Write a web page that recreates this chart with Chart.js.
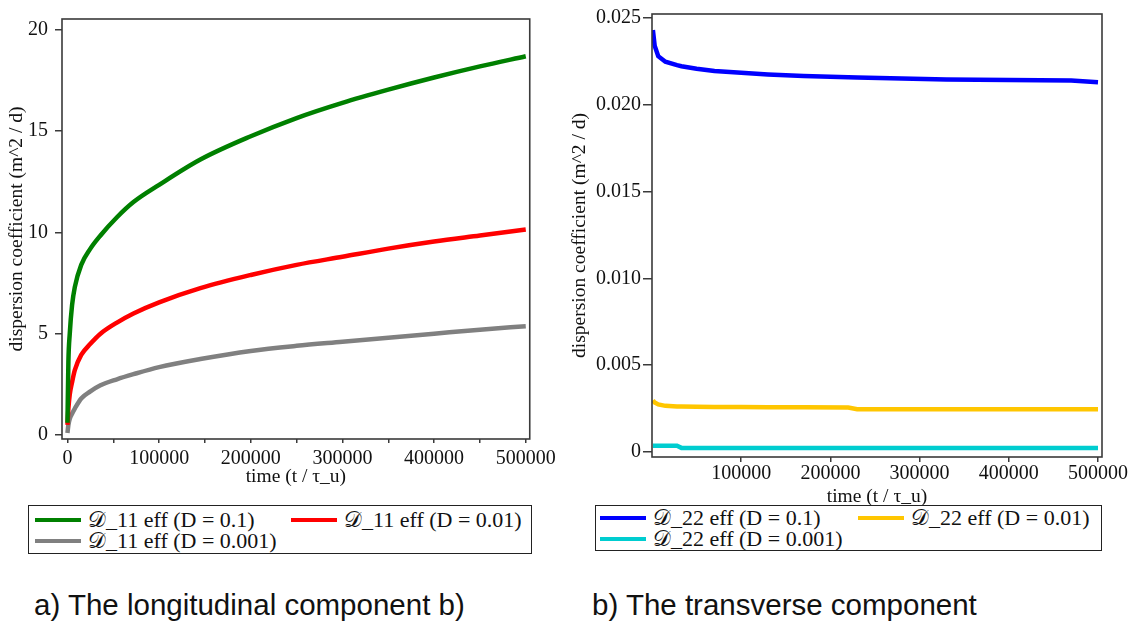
<!DOCTYPE html>
<html>
<head>
<meta charset="utf-8">
<script src="https://cdn.jsdelivr.net/npm/chart.js@4.4.1/dist/chart.umd.min.js"></script>
<style>
    body { margin: 0; background: #fff; width: 1131px; height: 624px; position: relative; overflow: hidden; }
    .panel { position: absolute; top: 0; }
    .legend { position: absolute; border: 1.5px solid #222; background: #fff; font-family: "Liberation Serif", serif; font-size: 22px; color: #111; }
    .legend .item { position: absolute; display: flex; align-items: center; white-space: nowrap; line-height: 22px; }
    .legend .swatch { width: 46px; height: 4px; margin-right: 7px; }
    .caption { position: absolute; top: 588px; font-family: "Liberation Sans", Arial, sans-serif; font-size: 29.5px; color: #111; white-space: nowrap; }
</style>
</head>
<body>
<div class="panel" style="left:0; width:560px; height:495px;"><canvas id="longChart"></canvas></div>
<div class="panel" style="left:560px; width:571px; height:510px;"><canvas id="transChart"></canvas></div>
<div class="legend" id="longLegend" style="left:28px; top:505px; width:502px; height:47px;"></div>
<div class="legend" id="transLegend" style="left:595px; top:505px; width:505px; height:44px;"></div>
<div class="caption" style="left:34px;">a) The longitudinal component b)</div>
<div class="caption" style="left:592px;">b) The transverse component</div>

<script>
// longitudinal component, D_11 eff
const timeLong = [0, 1000, 2500, 5000, 8000, 15000, 25000, 36000, 54000, 72000, 100000,
    145000, 200000, 250000, 300000, 350000, 400000, 450000, 500000];
const d11High = [0.6, 3.6, 5.0, 6.4, 7.3, 8.4, 9.2, 9.85, 10.75, 11.5, 12.35,
    13.6, 14.75, 15.65, 16.4, 17.05, 17.65, 18.2, 18.7];
const d11Mid = [0.5, 1.3, 2.0, 2.6, 3.2, 3.95, 4.5, 5.0, 5.55, 6.0, 6.55,
    7.25, 7.9, 8.4, 8.8, 9.2, 9.55, 9.85, 10.15];
const d11Low = [0.1, 0.5, 0.8, 1.05, 1.3, 1.8, 2.15, 2.45, 2.75, 3.0, 3.35,
    3.75, 4.15, 4.4, 4.6, 4.8, 5.0, 5.2, 5.37];

// transverse component, D_22 eff
const timeTrans = [1000, 3000, 7000, 15000, 28000, 33000, 50000, 70000, 100000,
    130000, 170000, 220000, 230000, 330000, 470000, 500000];
const d22High = [0.0243, 0.0234, 0.0228, 0.02248, 0.02228, 0.02222, 0.02208, 0.02194, 0.02184,
    0.02175, 0.02166, 0.02159, 0.02157, 0.02145, 0.0214, 0.0213];
const d22Mid = [0.00298, 0.00285, 0.00274, 0.00266, 0.00263, 0.00263, 0.00261, 0.00259, 0.00259,
    0.00258, 0.00258, 0.00257, 0.00247, 0.00246, 0.00246, 0.00246];
const d22Low = [0.00036, 0.00036, 0.00036, 0.00036, 0.00036, 0.00024, 0.00023, 0.00023, 0.00023,
    0.00023, 0.00023, 0.00023, 0.00023, 0.00023, 0.00023, 0.00023];

const longXTicks = [0, 50000, 100000, 150000, 200000, 250000, 300000, 350000, 400000, 450000, 500000];
const longYTicks = [0, 5, 10, 15, 20];
const transXTicks = [100000, 200000, 300000, 400000, 500000];
const transYTicks = [0, 0.005, 0.01, 0.015, 0.02, 0.025];

const labelsLong = ['\u{1D49F}_11 eff (D = 0.1)', '\u{1D49F}_11 eff (D = 0.01)', '\u{1D49F}_11 eff (D = 0.001)'];
const labelsTrans = ['\u{1D49F}_22 eff (D = 0.1)', '\u{1D49F}_22 eff (D = 0.01)', '\u{1D49F}_22 eff (D = 0.001)'];
const colorsLong = ['#008000', '#ff0000', '#808080'];
const colorsTrans = ['#0000ff', '#ffc600', '#00cdd0'];

const serif = '"Liberation Serif", "Times New Roman", serif';
const axisColor = '#3a3a3a';

function toPoints(xs, ys) {
    return xs.map((x, i) => ({ x: x, y: ys[i] }));
}

// box around the plot area
const framePlugin = {
    id: 'frame',
    afterDraw(chart) {
        const a = chart.chartArea;
        const ctx = chart.ctx;
        ctx.save();
        ctx.strokeStyle = axisColor;
        ctx.lineWidth = 1.6;
        ctx.strokeRect(a.left, a.top, a.right - a.left, a.bottom - a.top);
        ctx.restore();
    }
};

function makeChart(id, cfg) {
    const datasets = cfg.series.map((ys, i) => ({
        label: cfg.labels[i],
        data: toPoints(cfg.times, ys),
        borderColor: cfg.colors[i],
        backgroundColor: cfg.colors[i],
        borderWidth: 4.5,
        pointRadius: 0,
        tension: cfg.tension,
        cubicInterpolationMode: cfg.tension ? 'monotone' : 'default'
    }));
    return new Chart(document.getElementById(id), {
        type: 'line',
        data: { datasets: datasets },
        options: {
            responsive: true,
            maintainAspectRatio: false,
            animation: false,
            layout: { padding: cfg.padding },
            plugins: { legend: { display: false }, tooltip: { enabled: false } },
            scales: {
                x: {
                    type: 'linear',
                    min: cfg.xMin,
                    max: cfg.xMax,
                    afterBuildTicks: s => { s.ticks = cfg.xTicks.map(v => ({ value: v })); },
                    afterFit: s => { s.height = cfg.xHeight; },
                    border: { display: false },
                    grid: { display: true, drawOnChartArea: false, drawTicks: true, tickLength: cfg.xTickLen, color: axisColor, lineWidth: 1.5 },
                    ticks: {
                        color: '#111',
                        font: { family: serif, size: 20 },
                        padding: cfg.xTickPad,
                        maxRotation: 0,
                        autoSkip: false,
                        callback: v => (v % 100000 === 0 ? String(v) : '')
                    },
                    title: {
                        display: true,
                        text: 'time (t / \u03C4_u)',
                        color: '#111',
                        font: { family: serif, size: 19.5 },
                        padding: { top: 0, bottom: cfg.xTitlePad }
                    }
                },
                y: {
                    min: cfg.yMin,
                    max: cfg.yMax,
                    afterBuildTicks: s => { s.ticks = cfg.yTicks.map(v => ({ value: v })); },
                    afterFit: s => { s.width = cfg.yWidth; },
                    border: { display: false },
                    grid: { display: true, drawOnChartArea: false, drawTicks: true, tickLength: cfg.yTickLen, color: axisColor, lineWidth: 1.5 },
                    ticks: {
                        color: '#111',
                        font: { family: serif, size: 20 },
                        padding: cfg.yTickPad,
                        autoSkip: false,
                        callback: cfg.yFormat
                    },
                    title: {
                        display: true,
                        text: 'dispersion coefficient (m^2 / d)',
                        color: '#111',
                        font: { family: serif, size: 19.5 },
                        padding: { top: cfg.yTitlePad, bottom: 0 }
                    }
                }
            }
        },
        plugins: [framePlugin]
    });
}

function buildLegend(chart, el, rows) {
    chart.data.datasets.forEach((ds, i) => {
        const item = document.createElement('div');
        item.className = 'item';
        item.style.left = rows[i][0] + 'px';
        item.style.top = rows[i][1] + 'px';
        const sw = document.createElement('span');
        sw.className = 'swatch';
        sw.style.background = ds.borderColor;
        const tx = document.createElement('span');
        tx.textContent = ds.label;
        item.appendChild(sw);
        item.appendChild(tx);
        el.appendChild(item);
    });
}

const longChart = makeChart('longChart', {
    times: timeLong, series: [d11High, d11Mid, d11Low], labels: labelsLong, colors: colorsLong,
    tension: 0.4,
    padding: { left: 0, top: 14, right: 28, bottom: 0 },
    xMin: -5970, xMax: 504343, xTicks: longXTicks, xHeight: 56, xTickLen: 4, xTickPad: 4, xTitlePad: 6,
    yMin: -0.2, yMax: 20.54, yTicks: longYTicks, yWidth: 62, yTickLen: 7, yTickPad: 7, yTitlePad: 5,
    yFormat: v => String(v)
});

const transChart = makeChart('transChart', {
    times: timeTrans, series: [d22High, d22Mid, d22Low], labels: labelsTrans, colors: colorsTrans,
    tension: 0,
    padding: { left: 0, top: 10, right: 29, bottom: 0 },
    xMin: 0, xMax: 504484, xTicks: transXTicks, xHeight: 53, xTickLen: 5, xTickPad: 0, xTitlePad: 1,
    yMin: -0.000285, yMax: 0.025228, yTicks: transYTicks, yWidth: 92, yTickLen: 9, yTickPad: 2, yTitlePad: 8,
    yFormat: v => (v === 0 ? '0' : v.toFixed(3))
});

buildLegend(longChart, document.getElementById('longLegend'), [[6, 3], [262, 3], [6, 24]]);
buildLegend(transChart, document.getElementById('transLegend'), [[4, 1], [262, 1], [4, 22]]);
</script>
</body>
</html>
